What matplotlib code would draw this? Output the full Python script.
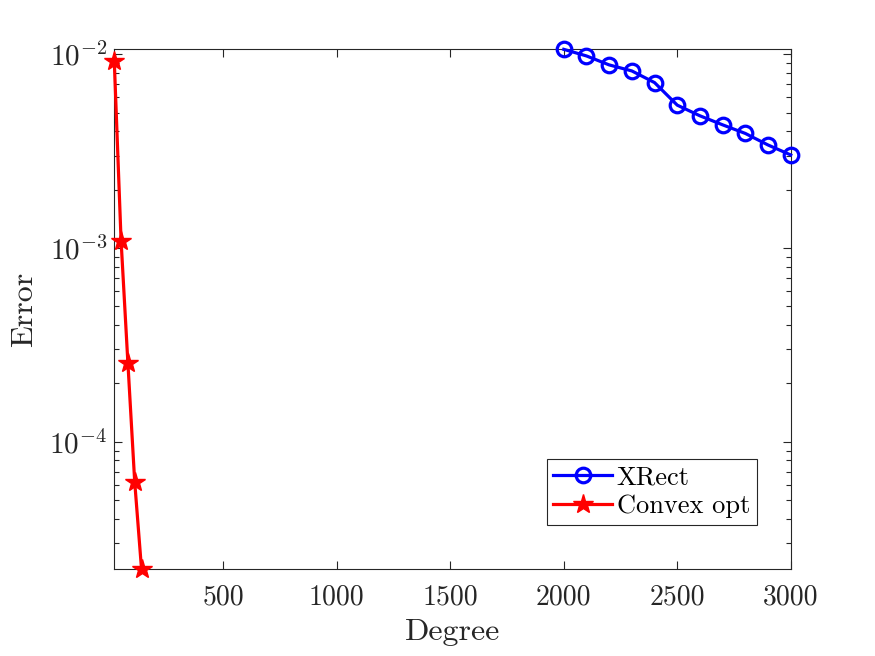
import numpy as np
import matplotlib
matplotlib.use('Agg')
import matplotlib.pyplot as plt

# XRect results
xrect_deg = [2000, 2100, 2200, 2300, 2400, 2500, 2600, 2700, 2800, 2900, 3000]
xrect_err = [0.0106, 0.0098, 0.00881, 0.0082, 0.00714, 0.00546, 0.00481, 0.00432, 0.0039, 0.0034, 0.00302]

# convex optimisation results
cvx_deg = [20, 50, 80, 110, 140]
cvx_err = [0.00924, 0.00109, 0.000255, 6.2e-05, 2.2e-05]

x_ticks = [500, 1000, 1500, 2000, 2500, 3000]

plt.rcParams['font.family'] = 'serif'
plt.rcParams['font.serif'] = ['cmr10']
plt.rcParams['mathtext.fontset'] = 'cm'
plt.rcParams['axes.formatter.use_mathtext'] = True
plt.rcParams['axes.unicode_minus'] = False

axcol = '#262626'

fig = plt.figure(figsize=(8.75, 6.56), dpi=100)
ax = fig.add_axes([0.1306, 0.1326, 0.7731, 0.7922])

ax.plot(xrect_deg, xrect_err, 'o-', color='#0000ff', lw=2.3, ms=10.5, mew=2.3,
        mfc='none', label='XRect', clip_on=False, zorder=3)
ax.plot(cvx_deg, cvx_err, '*-', color='#ff0000', lw=2.3, ms=15,
        label='Convex opt', clip_on=False, zorder=3)

ax.set_yscale('log')
ax.set_xlim(cvx_deg[0], xrect_deg[-1])
ax.set_ylim(cvx_err[-1], xrect_err[0])
ax.set_xticks(x_ticks)
ax.set_xticklabels([str(t) for t in x_ticks])

ax.tick_params(which='both', direction='in', top=True, right=True,
               colors=axcol, labelsize=20, width=0.8)
ax.tick_params(axis='y', labelsize=21, pad=5)
ax.tick_params(which='major', length=6)
ax.tick_params(which='minor', length=3.5)
ax.tick_params(axis='x', pad=11)
for s in ax.spines.values():
    s.set_color(axcol)
    s.set_linewidth(0.8)

ax.set_xlabel('Degree', fontsize=23, color=axcol, labelpad=6)
ax.set_ylabel('Error', fontsize=23, color=axcol, labelpad=8)

leg = ax.legend(loc='lower right', bbox_to_anchor=(0.9498, 0.0847),
                borderaxespad=0, fontsize=19, fancybox=False,
                framealpha=1, edgecolor='#262626', handlelength=2.2,
                handletextpad=0.2, borderpad=0.25, labelspacing=0.2)
leg.get_frame().set_linewidth(0.8)

fig.savefig('out.png', dpi=100)
